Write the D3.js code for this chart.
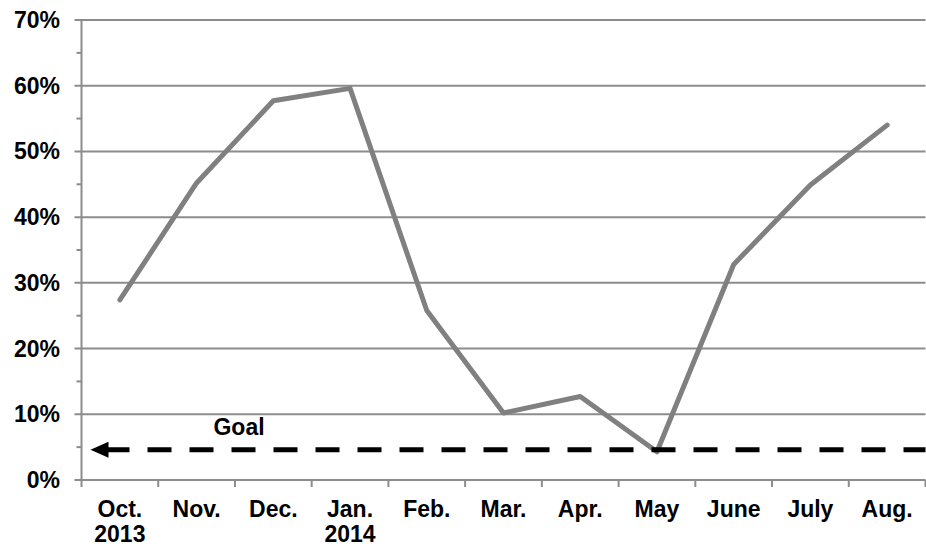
<!DOCTYPE html>
<html>
<head>
<meta charset="utf-8">
<script src="https://cdn.jsdelivr.net/npm/d3@7"></script>
<style>
  body { margin: 0; background: #fff; }
  text { font-family: "Liberation Sans", Arial, sans-serif; font-weight: bold; fill: #000; }
</style>
</head>
<body>
<div id="chart"></div>
<script>
// Chart data
const months = ["Oct.|2013", "Nov.", "Dec.", "Jan.|2014", "Feb.", "Mar.", "Apr.", "May", "June", "July", "Aug."];
const values = [27.4, 45.2, 57.7, 59.6, 25.8, 10.2, 12.7, 4.3, 32.8, 44.9, 54.0];
const yTicks = [0, 10, 20, 30, 40, 50, 60, 70];
const minorTicks = [5, 15, 25, 35, 45, 55, 65];
const goalValue = 4.6;
const goalLabel = "Goal";

document.addEventListener('DOMContentLoaded', function() {
    const width = 926, height = 547;
    const left = 81.5, right = 925.5, top = 20, bottom = 480;

    const svg = d3.select("#chart").append("svg")
        .attr("width", width)
        .attr("height", height);

    const x = d3.scaleBand().domain(months).range([left, right]);
    const y = d3.scaleLinear().domain([0, 70]).range([bottom, top]);

    // gridlines
    svg.append("g").selectAll("line")
        .data(yTicks.filter(d => d > 0))
        .enter().append("line")
        .attr("x1", left - 7).attr("x2", right)
        .attr("y1", d => y(d)).attr("y2", d => y(d))
        .attr("stroke", "#8c8c8c").attr("stroke-width", 2);

    // minor ticks
    svg.append("g").selectAll("line")
        .data(minorTicks)
        .enter().append("line")
        .attr("x1", left - 5).attr("x2", left)
        .attr("y1", d => y(d)).attr("y2", d => y(d))
        .attr("stroke", "#8c8c8c").attr("stroke-width", 2);

    // y axis line
    svg.append("line")
        .attr("x1", left).attr("x2", left)
        .attr("y1", top).attr("y2", bottom)
        .attr("stroke", "#8c8c8c").attr("stroke-width", 2);

    // y labels
    svg.append("g").selectAll("text")
        .data(yTicks)
        .enter().append("text")
        .attr("x", 60)
        .attr("y", d => y(d) + 8)
        .attr("text-anchor", "end")
        .style("font-size", "23px")
        .text(d => d + "%");

    // x axis line + ticks
    svg.append("line")
        .attr("x1", left - 7).attr("x2", right)
        .attr("y1", bottom).attr("y2", bottom)
        .attr("stroke", "#8c8c8c").attr("stroke-width", 2);

    const bounds = months.map(m => x(m)).concat([right]);
    svg.append("g").selectAll("line")
        .data(bounds)
        .enter().append("line")
        .attr("x1", d => d).attr("x2", d => d)
        .attr("y1", bottom).attr("y2", bottom + 7)
        .attr("stroke", "#8c8c8c").attr("stroke-width", 2);

    // x labels
    const xl = svg.append("g").selectAll("text")
        .data(months)
        .enter().append("text")
        .attr("text-anchor", "middle")
        .style("font-size", "23px")
        .attr("transform", d => `translate(${x(d) + x.bandwidth() / 2},0)`);
    xl.each(function(d) {
        const t = d3.select(this);
        d.split("|").forEach((p, i) => {
            t.append("tspan").attr("x", 0).attr("y", 517 + i * 25).text(p);
        });
    });

    // data line
    const line = d3.line()
        .x((d, i) => x(months[i]) + x.bandwidth() / 2)
        .y(d => y(d));

    svg.append("path")
        .datum(values)
        .attr("d", line)
        .attr("fill", "none")
        .attr("stroke", "#808080")
        .attr("stroke-width", 5)
        .attr("stroke-linejoin", "round")
        .attr("stroke-linecap", "round");

    // goal line with arrow
    const gy = y(goalValue);
    svg.append("line")
        .attr("x1", left + 24).attr("x2", right)
        .attr("y1", gy).attr("y2", gy)
        .attr("stroke", "#000")
        .attr("stroke-width", 5)
        .attr("stroke-dasharray", "24,18");

    svg.append("path")
        .attr("d", `M${left + 9},${gy} L${left + 27},${gy - 8} L${left + 27},${gy + 8} Z`)
        .attr("fill", "#000");

    svg.append("text")
        .attr("x", 239)
        .attr("y", gy - 14.5)
        .attr("text-anchor", "middle")
        .style("font-size", "23px")
        .text(goalLabel);
});
</script>
</body>
</html>
